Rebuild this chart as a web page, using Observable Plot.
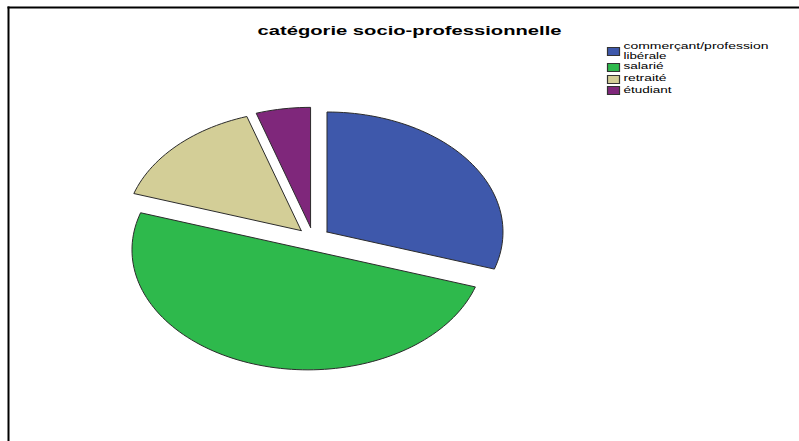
<!DOCTYPE html>
<html lang="fr">
<head>
<meta charset="utf-8">
<title>catégorie socio-professionnelle</title>
<script src="https://cdn.jsdelivr.net/npm/d3@7"></script>
<script src="https://cdn.jsdelivr.net/npm/@observablehq/plot@0.6"></script>
<style>
  html, body { margin: 0; padding: 0; background: #fff; overflow: hidden; }
  svg { display: block; }
</style>
</head>
<body>
<div id="chart"></div>
<script>
// Répartition par catégorie socio-professionnelle (en %)
const categories = ["commerçant/profession libérale", "salarié", "retraité", "étudiant"];
const values = [30, 50, 15, 5];
const colors = ["#3e58ab", "#2eb94c", "#d3ce97", "#7f277b"];
const legendLines = [["commerçant/profession", "libérale"], ["salarié"], ["retraité"], ["étudiant"]];
const chartTitle = "catégorie socio-professionnelle";

const width = 799, height = 441;
const explode = 0.0966; // distance of every slice from the pie's centre, in radii

// Each slice becomes a closed outline on the unit circle, clockwise from the top.
const total = d3.sum(values);
const outlines = [];
let running = 0;
categories.forEach((category, i) => {
  const a0 = (running / total) * 2 * Math.PI;
  const a1 = ((running + values[i]) / total) * 2 * Math.PI;
  const mid = (a0 + a1) / 2;
  const cx = explode * Math.sin(mid), cy = explode * Math.cos(mid);
  const steps = Math.ceil(values[i] * 2);
  outlines.push({category, x: cx, y: cy});
  for (let s = 0; s <= steps; ++s) {
    const a = a0 + (a1 - a0) * (s / steps);
    outlines.push({category, x: cx + Math.sin(a), y: cy + Math.cos(a)});
  }
  outlines.push({category, x: cx, y: cy});
  running += values[i];
});

// Stretches a label's glyphs to a set width, as wide as the chart's lettering.
const stretched = (length) => (index, scales, vals, dims, ctx, next) => {
  const g = next(index, scales, vals, dims, ctx);
  g.querySelectorAll("text").forEach((t) => {
    t.setAttribute("textLength", length);
    t.setAttribute("lengthAdjust", "spacingAndGlyphs");
  });
  return g;
};

const legendFont = {fontFamily: "Liberation Sans, Arial, sans-serif", fontSize: 9, fill: "#000", textAnchor: "start", frameAnchor: "top-left"};
const legendRows = [
  {dy: 51, lines: [[42.5, 145], [52, 43]]},
  {dy: 67, lines: [[62.5, 40]]},
  {dy: 79, lines: [[74.5, 43]]},
  {dy: 90, lines: [[86, 48]]}
];
const swatch = {draw(c) { c.rect(-6, -4, 12, 8); }};

const legendMarks = categories.flatMap((category, i) => [
  Plot.dot([category], {
    frameAnchor: "top-left", dx: 613, dy: legendRows[i].dy,
    symbol: swatch, fill: (d) => d, stroke: "#333", strokeWidth: 1.2
  }),
  ...legendLines[i].map((line, j) => Plot.text([line], {
    ...legendFont, text: (d) => d, dx: 623, dy: legendRows[i].lines[j][0],
    render: stretched(legendRows[i].lines[j][1])
  }))
]);

const plot = Plot.plot({
  width, height,
  margin: 0,
  style: {background: "#fff"},
  x: {domain: [-1.777, 2.763], range: [0, width], axis: null},
  y: {domain: [1.986, -1.689], range: [0, height], axis: null},
  color: {domain: categories, range: colors},
  marks: [
    Plot.frame({anchor: "left", insetLeft: 8, insetTop: 7, stroke: "#000", strokeWidth: 2}),
    Plot.frame({anchor: "top", insetTop: 7, insetLeft: 8, stroke: "#000", strokeWidth: 2}),
    Plot.line(outlines, {
      x: "x", y: "y", z: "category", fill: "category",
      stroke: "#2b2b2b", strokeWidth: 1, strokeLinejoin: "miter", curve: "linear"
    }),
    Plot.text([chartTitle], {
      text: (d) => d, frameAnchor: "top-left", textAnchor: "start",
      dx: 257, dy: 25, fontFamily: "Liberation Sans, Arial, sans-serif",
      fontSize: 13.5, fontWeight: "bold", fill: "#000",
      render: stretched(304)
    }),
    ...legendMarks
  ]
});
document.getElementById("chart").append(plot);
</script>
</body>
</html>
